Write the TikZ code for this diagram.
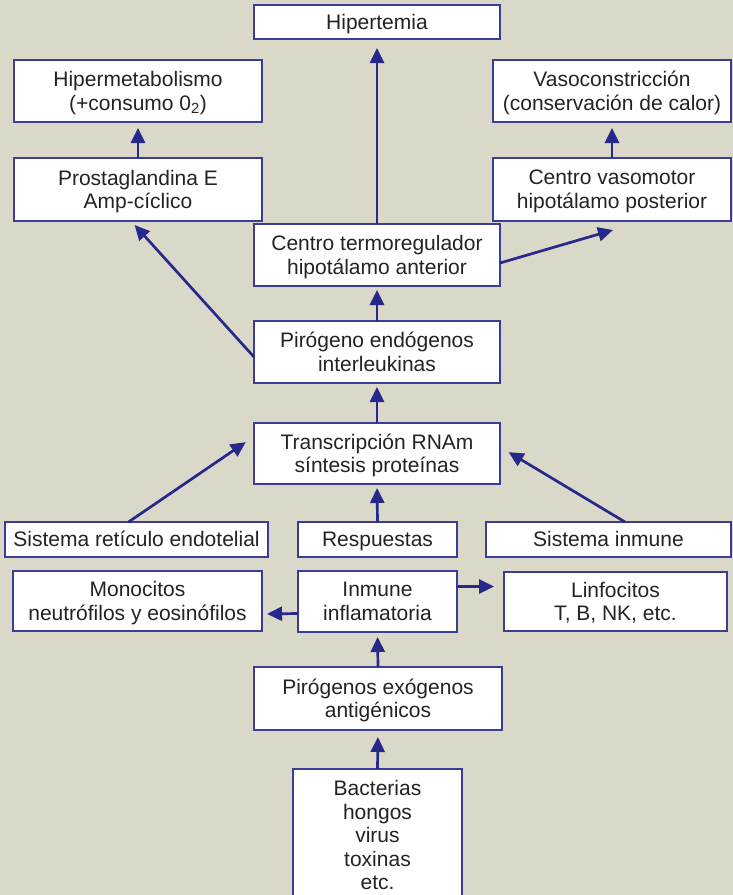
\documentclass[tikz,border=0pt]{standalone}
\usepackage{fontspec}
\setmainfont{Liberation Sans}
\usetikzlibrary{arrows.meta,calc}
\definecolor{bgbeige}{RGB}{218,217,201}
\definecolor{boxblue}{RGB}{60,60,155}
\definecolor{arrowblue}{RGB}{40,40,140}
\definecolor{textgray}{RGB}{35,35,35}
\tikzset{
    flownode/.style = {
        align=center,
        text centered,
        rectangle,
        draw=boxblue,
        fill=white,
        line width=1.2pt,
        text=textgray,
        font=\fontsize{21}{23.5}\selectfont,
        text depth=0.5pt,
        minimum height=62pt,
        inner sep=0pt,
        outer sep=0mm
    },
    flatnode/.style = {
        flownode,
        minimum height=35pt
    },
    flowarrow/.style = {
        draw=arrowblue,
        line width=2.7pt,
        -{Triangle[length=15pt,width=14pt]},
        shorten >=5pt
    }
}
\begin{document}
\begin{tikzpicture}[x=1pt,y=-1pt]
            \clip (0,0) rectangle (733,895);
            \fill [bgbeige] (0,0) rectangle (733,895);
            \node [flownode, minimum width=246pt, minimum height=34pt] (hiper) at (377,22) {Hipertemia};
            \node [flownode, minimum width=248pt] (hipermet) at (138,91) {Hipermetabolismo\\(+consumo 0\textsubscript{2})};
            \node [flownode, minimum width=238pt] (vasocon) at (612,91) {Vasoconstricción\\(conservación de calor)};
            \node [flownode, minimum width=248pt, minimum height=63pt] (prosta) at (138,189.5) {Prostaglandina E\\Amp-cíclico};
            \node [flownode, minimum width=238pt, minimum height=63pt] (vasomot) at (612,189.5) {Centro vasomotor\\hipotálamo posterior};
            \node [flownode, minimum width=246pt] (termo) at (377,255) {Centro termoregulador\\hipotálamo anterior};
            \node [flownode, minimum width=246pt] (piroendo) at (377,352) {Pirógeno endógenos\\interleukinas};
            \node [flownode, minimum width=246pt, minimum height=61pt] (transcr) at (377,453.5) {Transcripción RNAm\\síntesis proteínas};
            \node [flatnode, minimum width=263pt] (retic) at (136.5,539.5) {Sistema retículo endotelial};
            \node [flatnode, minimum width=159pt] (resp) at (377.5,539.5) {Respuestas};
            \node [flatnode, minimum width=245pt] (sisinm) at (608.5,539.5) {Sistema inmune};
            \node [flownode, minimum width=249pt, minimum height=60pt] (mono) at (137.5,601) {Monocitos\\neutrófilos y eosinófilos};
            \node [flownode, minimum width=159pt, minimum height=61pt] (inflam) at (377.5,601.5) {Inmune\\inflamatoria};
            \node [flownode, minimum width=223pt, minimum height=59pt] (linfo) at (615.5,601.5) {Linfocitos\\T, B, NK, etc.};
            \node [flownode, minimum width=248pt, minimum height=63pt] (piroexo) at (378,698.5) {Pirógenos exógenos\\antigénicos};
            \node [flownode, minimum width=169pt, minimum height=133pt] (bact) at (377.5,835.5) {Bacterias\\hongos\\virus\\toxinas\\etc.};
            \coordinate (vasotip) at (613,230);
            \draw [flowarrow, shorten >=7pt] (bact.north) -- (piroexo.south);
            \draw [flowarrow] (piroexo.north) -- (inflam.south);
            \draw [flowarrow] ($(inflam.west)+(0,12)$) -- ($(mono.east)+(0,13)$);
            \draw [flowarrow, shorten >=10pt] ($(inflam.east)+(0,-15)$) -- ($(linfo.west)+(0,-15)$);
            \draw [flowarrow, shorten >=4pt] (resp.north) -- (transcr.south);
            \draw [flowarrow, shorten >=10pt] ($(retic.north)+(-8,0)$) -- ($(transcr.west)+(0,-17)$);
            \draw [flowarrow, shorten >=10pt] ($(sisinm.north)+(16.5,0)$) -- ($(transcr.east)+(0,-6.5)$);
            \draw [flowarrow, shorten >=4pt] (transcr.north) -- (piroendo.south);
            \draw [flowarrow, shorten >=4pt] (piroendo.north) -- (termo.south);
            \draw [flowarrow, shorten >=5.4pt] ($(piroendo.west)+(0,5)$) -- ($(prosta.south)+(-7,0)$);
            \draw [flowarrow, shorten >=9pt] (termo.north) -- (hiper.south);
            \draw [flowarrow, shorten >=0pt] ($(termo.east)+(0,8)$) -- (vasotip);
            \draw [flowarrow, shorten >=6pt] (prosta.north) -- (hipermet.south);
            \draw [flowarrow, shorten >=6pt] (vasomot.north) -- (vasocon.south);
        \end{tikzpicture}
\end{document}
